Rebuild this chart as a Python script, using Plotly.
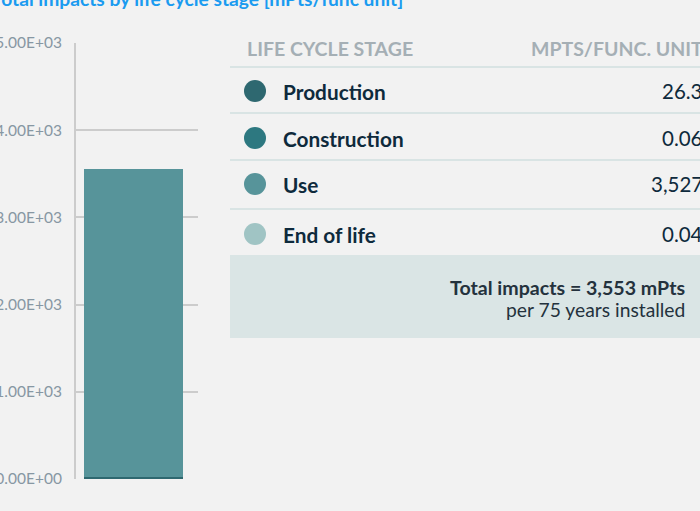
import plotly.graph_objects as go

W, H = 700, 511

stages = ["Production", "Construction", "Use", "End of life"]
impacts = [26.3, 0.06, 3527, 0.04]
value_labels = ["26.3", "0.06", "3,527", "0.04"]
stage_colors = ["#2e6870", "#2d7880", "#57949a", "#a0c4c4"]
tick_vals = [0, 1000, 2000, 3000, 4000, 5000]
tick_labels = ["0.00E+00", "1.00E+03", "2.00E+03", "3.00E+03", "4.00E+03", "5.00E+03"]
title_text = "Total impacts by life cycle stage [mPts/func unit]"
total_text = "Total impacts = 3,553 mPts"
per_text = "per 75 years installed"

FONT = "Lato"
BG = "#f2f2f2"


def px(x):
    return x / W


def py(y):
    return 1 - y / H


fig = go.Figure()
for s, v, c in zip(stages, impacts, stage_colors):
    fig.add_trace(go.Bar(x=[0], y=[v], name=s, marker=dict(color=c, line=dict(width=0)),
                         width=0.81, showlegend=False, hoverinfo="skip"))

shapes = []
annotations = []

# title (cropped at top)
annotations.append(dict(x=px(-10), y=py(-1.8), xref="paper", yref="paper", xanchor="left",
                        yanchor="middle", text="<b>" + title_text + "</b>", showarrow=False,
                        font=dict(family=FONT, size=19.2, color="#1a9bf0")))

# table header
annotations.append(dict(x=px(245), y=py(48), xref="paper", yref="paper", xanchor="left",
                        yanchor="middle", text="<b>LIFE CYCLE STAGE</b>", showarrow=False,
                        font=dict(family=FONT, size=19.5, color="#a5afb5")))
annotations.append(dict(x=px(705), y=py(48), xref="paper", yref="paper", xanchor="right",
                        yanchor="middle", text="<b>MPTS/FUNC. UNIT</b>", showarrow=False,
                        font=dict(family=FONT, size=19.5, color="#a5afb5")))

row_y = [91, 138, 184, 234]
sep_y = [67, 113, 160, 209]
for yy in sep_y:
    shapes.append(dict(type="line", xref="paper", yref="paper", x0=px(230), x1=px(700),
                       y0=py(yy), y1=py(yy), line=dict(color="#d9e4e4", width=2)))

for s, lab, c, yy in zip(stages, value_labels, stage_colors, row_y):
    r = 11
    shapes.append(dict(type="circle", xref="paper", yref="paper", x0=px(255 - r), x1=px(255 + r),
                       y0=py(yy - r), y1=py(yy + r), fillcolor=c, line=dict(width=0)))
    annotations.append(dict(x=px(281), y=py(yy), xref="paper", yref="paper", xanchor="left",
                            yanchor="middle", text="<b>" + s + "</b>", showarrow=False,
                            font=dict(family=FONT, size=20.8, color="#0e2a3c")))
    annotations.append(dict(x=px(705), y=py(yy), xref="paper", yref="paper", xanchor="right",
                            yanchor="middle", text=lab, showarrow=False,
                            font=dict(family=FONT, size=20.5, color="#0e2a3c")))

# total box
shapes.append(dict(type="rect", xref="paper", yref="paper", x0=px(230), x1=px(700),
                   y0=py(255), y1=py(338), fillcolor="#dae5e5", line=dict(width=0), layer="below"))
annotations.append(dict(x=px(687), y=py(287), xref="paper", yref="paper", xanchor="right",
                        yanchor="middle", text="<b>" + total_text + "</b>", showarrow=False,
                        font=dict(family=FONT, size=19.6, color="#24323d")))
annotations.append(dict(x=px(687), y=py(309), xref="paper", yref="paper", xanchor="right",
                        yanchor="middle", text=per_text, showarrow=False,
                        font=dict(family=FONT, size=19.3, color="#24323d")))

fig.update_layout(
    width=W, height=H,
    margin=dict(l=0, r=0, t=0, b=0, pad=0, autoexpand=False),
    paper_bgcolor=BG, plot_bgcolor=BG,
    barmode="stack",
    bargap=0,
    shapes=shapes,
    annotations=annotations,
    xaxis=dict(domain=[76 / W, 198 / W], range=[-0.471, 0.529], showticklabels=False,
               showgrid=False, zeroline=False, showline=False, fixedrange=True,
               automargin=False),
    yaxis=dict(domain=[(H - 479) / H, (H - 43) / H], range=[0, 5000], tickvals=tick_vals,
               ticktext=tick_labels, showgrid=True, gridcolor="#cccccc", gridwidth=2,
               zeroline=False, showline=True, linecolor="#cccccc", linewidth=2,
               ticks="", ticklabelstandoff=9, automargin=False, fixedrange=True,
               tickfont=dict(family=FONT, size=15.5, color="#8797a3")),
    font=dict(family=FONT),
)

fig.write_html(
    "out.html",
    config={"displayModeBar": False, "staticPlot": True},
    post_script="document.body.style.margin='0';document.body.style.background='#f2f2f2';",
)
